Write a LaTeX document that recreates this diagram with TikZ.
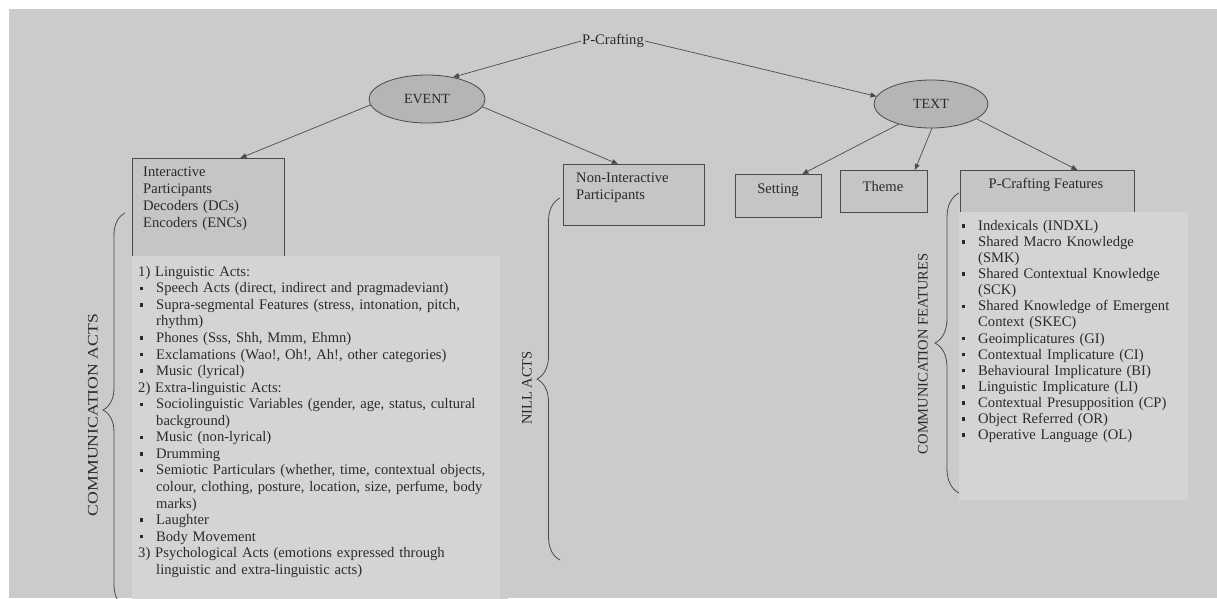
\documentclass[tikz,border=0pt]{standalone}
\usepackage{fontspec}
\usepackage{graphicx}
\setmainfont{Liberation Serif}
\usetikzlibrary{shapes.geometric,decorations.pathreplacing,arrows.meta,calc}
\definecolor{bg}{HTML}{CBCBCB}
\definecolor{listfill}{HTML}{D4D4D4}
\definecolor{boxfill}{HTML}{C5C5C5}
\definecolor{ellfill}{HTML}{B5B5B5}
\definecolor{linec}{HTML}{4A4A4A}
\definecolor{txt}{HTML}{2A2A2A}
\newcommand{\bl}[1]{\makebox[18pt][l]{\hspace{1.5pt}\rule[2.8pt]{3.4pt}{3.4pt}}#1}
\newcommand{\cl}[1]{\hspace*{18pt}#1}
\begin{document}
\begin{tikzpicture}[x=1pt,y=-1pt,
  every node/.style={text=txt},
  ellnode/.style={ellipse, draw=linec, fill=ellfill, line width=0.8pt, minimum width=116pt, minimum height=48pt, inner sep=0pt, font=\fontsize{14}{16}\selectfont},
  boxnode/.style={draw=linec, fill=boxfill, line width=0.8pt, inner sep=0pt, anchor=north west},
  listbox/.style={fill=listfill, draw=none, inner sep=0pt, anchor=north west},
  lbl/.style={inner sep=0pt, font=\fontsize{14.6}{16}\selectfont},
  blocktext/.style={inner sep=0pt, anchor=north west, align=left, text width=#1},
  arr/.style={draw=linec, line width=0.7pt, -{Triangle[length=6pt,width=5pt]}},
  bracedeco/.style={draw=linec, line width=0.8pt, decorate, decoration={brace, amplitude=#1}},
  sidelbl/.style={rotate=90, inner sep=0pt, font=\fontsize{14.5}{16}\selectfont}
]
\useasboundingbox (0,0) rectangle (1217,598);
\begin{scope}
\clip (0,0) rectangle (1217,598);
\fill[white] (0,0) rectangle (1217,598);
\fill[bg] (9,9) rectangle (1217,598);

% top
\node[lbl, inner sep=1pt] (pc) at (613,41) {P-Crafting};
\node[ellnode] (ev) at (427,99) {EVENT};
\node[ellnode, minimum width=114pt] (tx) at (931,104) {TEXT};

% boxes
\node[boxnode, minimum width=152pt, minimum height=98pt] (ib) at (132,158) {};
\node[boxnode, minimum width=141pt, minimum height=61pt] (nb) at (563,164) {};
\node[boxnode, minimum width=86pt, minimum height=43pt] (sb) at (735,174) {};
\node[boxnode, minimum width=87pt, minimum height=42pt] (thb) at (840,170) {};
\node[boxnode, minimum width=174pt, minimum height=44pt] (pfb) at (960,170) {};

\node[lbl] (sbt) at (778,190) {Setting};
\node[lbl] (tht) at (883,186) {Theme};
\node[lbl] (pft) at (1046,185) {P-Crafting Features};

\node[blocktext=140pt, font=\fontsize{14.6}{17}\selectfont] (ibt) at (143,166.5)
 {Interactive\\Participants\\Decoders (DCs)\\Encoders (ENCs)};
\node[blocktext=125pt, font=\fontsize{14.6}{17}\selectfont] (nbt) at (576,172.5)
 {Non-Interactive\\Participants};

% list boxes
\node[listbox, minimum width=376pt, minimum height=345pt] (lb) at (132,256) {};
\fill[bg!92!black, opacity=0.35] (lb.north east) ++(-8,0) rectangle (lb.south east);
\node[listbox, minimum width=229pt, minimum height=288pt] (rb) at (959,212) {};

\node[blocktext=370pt, font=\fontsize{14.6}{16.55}\selectfont] (lbt) at (138,266)
 {1) Linguistic Acts:\\
  \bl{Speech Acts (direct, indirect and pragmadeviant)}\\
  \bl{Supra-segmental Features (stress, intonation, pitch,}\\
  \cl{rhythm)}\\
  \bl{Phones (Sss, Shh, Mmm, Ehmn)}\\
  \bl{Exclamations (Wao!, Oh!, Ah!, other categories)}\\
  \bl{Music (lyrical)}\\
  2) Extra-linguistic Acts:\\
  \bl{Sociolinguistic Variables (gender, age, status, cultural}\\
  \cl{background)}\\
  \bl{Music (non-lyrical)}\\
  \bl{Drumming}\\
  \bl{Semiotic Particulars (whether, time, contextual objects,}\\
  \cl{colour, clothing, posture, location, size, perfume, body}\\
  \cl{marks)}\\
  \bl{Laughter}\\
  \bl{Body Movement}\\
  3) Psychological Acts (emotions expressed through\\
  \cl{linguistic and extra-linguistic acts)}};

\node[blocktext=225pt, font=\fontsize{14.6}{16.1}\selectfont] (rbt) at (960,220)
 {\bl{Indexicals (INDXL)}\\
  \bl{Shared Macro Knowledge}\\
  \cl{(SMK)}\\
  \bl{Shared Contextual Knowledge}\\
  \cl{(SCK)}\\
  \bl{Shared Knowledge of Emergent}\\
  \cl{Context (SKEC)}\\
  \bl{Geoimplicatures (GI)}\\
  \bl{Contextual Implicature (CI)}\\
  \bl{Behavioural Implicature (BI)}\\
  \bl{Linguistic Implicature (LI)}\\
  \bl{Contextual Presupposition (CP)}\\
  \bl{Object Referred (OR)}\\
  \bl{Operative Language (OL)}};

% braces
\coordinate (lbTop) at (125,213);
\coordinate (lbBot) at (125,607);
\coordinate (nbTop) at (560,198);
\coordinate (nbBot) at (560,560);
\coordinate (rbTop) at (959,193);
\coordinate (rbBot) at (959,493);
\draw[bracedeco=22pt] (lbBot) -- (lbTop);
\draw[bracedeco=23pt] (nbBot) -- (nbTop);
\draw[bracedeco=24pt] (rbBot) -- (rbTop);

\node[sidelbl] (ca) at (93,415) {\scalebox{1.22}[1]{COMMUNICATION ACTS}};
\node[sidelbl] (na) at (527,388) {NILL ACTS};
\node[sidelbl] (cf) at (923,354) {COMMUNICATION FEATURES};

% connectors
\draw[arr] (pc.west) -- (ev.40);
\draw[arr] (pc.east) -- (tx.172);
\draw[arr] (ev.186) -- ([xshift=32pt]ib.north);
\draw[arr] (ev.-8) -- ([xshift=-16pt]nb.north);
\draw[arr] (tx.212) -- ([xshift=24pt]sb.north);
\draw[arr] (tx.272) -- ([xshift=31pt]thb.north);
\draw[arr] (tx.-18) -- ([xshift=30pt]pfb.north);
\end{scope}
\end{tikzpicture}
\end{document}
